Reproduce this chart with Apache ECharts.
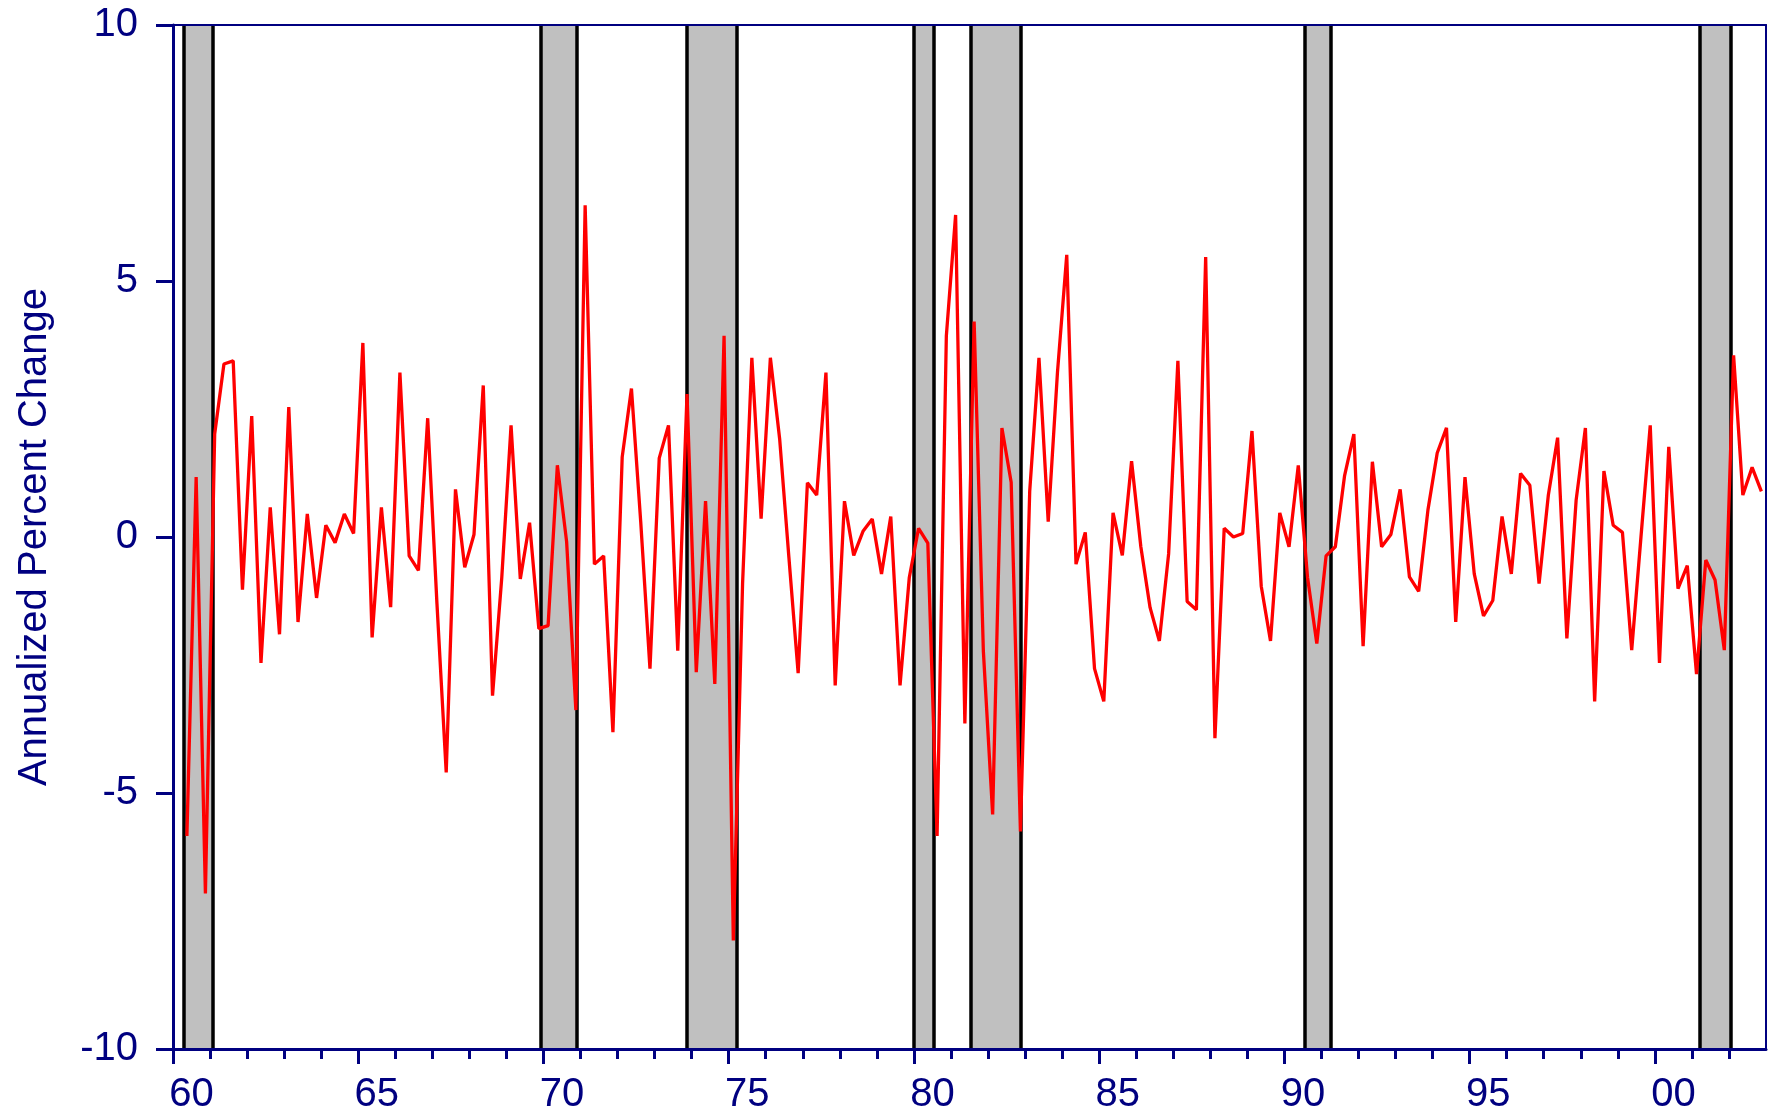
<!DOCTYPE html>
<html>
<head>
<meta charset="utf-8">
<script src="https://cdn.jsdelivr.net/npm/echarts@6/dist/echarts.min.js"></script>
<style>
html,body{margin:0;padding:0;background:#fff;}
#chart{width:1777px;height:1117px;}
</style>
</head>
<body>
<div id="chart"></div>
<script>
// Quarterly series, first observation 1960 Q2, last 2002 Q4
var startYear = 1960;
var startQuarter = 2;
var values = [
  -5.84, 1.17, -6.96,
  2.01, 3.38, 3.44, -1.03,
  2.36, -2.46, 0.58, -1.90,
  2.54, -1.66, 0.45, -1.19,
  0.23, -0.11, 0.45, 0.07,
  3.79, -1.96, 0.58, -1.37,
  3.21, -0.37, -0.65, 2.32,
  -1.30, -4.60, 0.93, -0.59,
  0.05, 2.96, -3.10, -0.79,
  2.18, -0.82, 0.28, -1.79,
  -1.73, 1.40, -0.09, -3.38,
  6.48, -0.53, -0.37, -3.81,
  1.56, 2.90, 0.30, -2.57,
  1.54, 2.18, -2.22, 2.79,
  -2.64, 0.70, -2.87, 3.93,
  -7.88, -0.90, 3.50, 0.36,
  3.50, 1.92, -0.40, -2.66,
  1.06, 0.82, 3.21, -2.90,
  0.70, -0.36, 0.11, 0.35,
  -0.72, 0.40, -2.90, -0.79,
  0.17, -0.12, -5.84, 3.93,
  6.29, -3.64, 4.21, -2.24,
  -5.42, 2.13, 1.07, -5.75,
  0.89, 3.50, 0.30, 3.22,
  5.51, -0.53, 0.09, -2.57,
  -3.21, 0.47, -0.36, 1.48,
  -0.19, -1.38, -2.03, -0.33,
  3.44, -1.26, -1.42, 5.47,
  -3.93, 0.17, 0.00, 0.07,
  2.07, -0.96, -2.03, 0.47,
  -0.19, 1.40, -0.79, -2.08,
  -0.37, -0.19, 1.20, 2.01,
  -2.13, 1.47, -0.19, 0.05,
  0.93, -0.78, -1.06, 0.53,
  1.64, 2.13, -1.66, 1.17,
  -0.72, -1.54, -1.24, 0.40,
  -0.72, 1.24, 1.01, -0.91,
  0.82, 1.94, -1.98, 0.72,
  2.13, -3.21, 1.29, 0.23,
  0.09, -2.21, 0.00, 2.18,
  -2.46, 1.76, -1.01, -0.56,
  -2.68, -0.45, -0.84, -2.21,
  3.55, 0.82, 1.36, 0.89
];
// Recession periods (shaded), in years
var recessionStart = [1960.28, 1969.92, 1973.87, 1980.00, 1981.54, 1990.54, 2001.22];
var recessionEnd   = [1961.07, 1970.89, 1975.21, 1980.54, 1982.88, 1991.26, 2002.06];
// Axis ticks
var xMajorYears = [1960, 1965, 1970, 1975, 1980, 1985, 1990, 1995, 2000];
var xTickLabels = ['60', '65', '70', '75', '80', '85', '90', '95', '00'];
var yTicks = [-10, -5, 0, 5, 10];
var yTitle = 'Annualized Percent Change';

var NAVY = '#000080';
var FONT = "'Liberation Sans', Arial, sans-serif";

// position each quarter at its middle
var seriesData = values.map(function (v, i) {
  var q = startQuarter - 1 + i;
  return [startYear + (q + 0.5) / 4, v];
});
var minorYears = [];
for (var y = 1961; y < 2003; y++) { if (y % 5 !== 0) minorYears.push(y); }
var labelPos = xMajorYears.map(function (y) { return y + 0.5; });

var areaData = recessionStart.map(function (s, i) {
  return [{ xAxis: s }, { xAxis: recessionEnd[i] }];
});
var edgeData = [];
recessionStart.forEach(function (s, i) {
  edgeData.push({ xAxis: s });
  edgeData.push({ xAxis: recessionEnd[i] });
});

var chart = echarts.init(document.getElementById('chart'), null, { renderer: 'canvas' });
chart.setOption({
  animation: false,
  backgroundColor: '#ffffff',
  grid: { left: 173, right: 11, top: 25, bottom: 68, containLabel: false },
  xAxis: [
    {
      type: 'value', min: 1960, max: 2003, position: 'bottom', z: 10,
      axisLine: { show: true, onZero: false, lineStyle: { color: NAVY, width: 3 } },
      axisTick: { show: true, length: 15, customValues: xMajorYears, lineStyle: { color: NAVY, width: 3 } },
      axisLabel: {
        show: true, customValues: labelPos, margin: 26,
        color: NAVY, fontSize: 40, fontFamily: FONT,
        formatter: function (v) {
          var idx = xMajorYears.indexOf(Math.floor(v));
          return idx >= 0 ? xTickLabels[idx] : '';
        }
      },
      splitLine: { show: false }
    },
    {
      type: 'value', min: 1960, max: 2003, position: 'bottom', z: 10,
      axisLine: { show: false, onZero: false },
      axisTick: { show: true, length: 10, customValues: minorYears, lineStyle: { color: NAVY, width: 3 } },
      axisLabel: { show: false },
      splitLine: { show: false }
    },
    {
      type: 'value', min: 1960, max: 2003, position: 'top', z: 10,
      axisLine: { show: true, onZero: false, lineStyle: { color: NAVY, width: 2 } },
      axisTick: { show: false }, axisLabel: { show: false }, splitLine: { show: false }
    }
  ],
  yAxis: [
    {
      type: 'value', min: -10, max: 10, interval: 5, position: 'left', z: 10,
      name: yTitle, nameLocation: 'middle', nameGap: 118,
      nameTextStyle: { color: NAVY, fontSize: 40, fontFamily: FONT },
      axisLine: { show: true, onZero: false, lineStyle: { color: NAVY, width: 3 } },
      axisTick: { show: true, length: 17, customValues: yTicks, lineStyle: { color: NAVY, width: 3 } },
      axisLabel: { color: NAVY, fontSize: 40, fontFamily: FONT, margin: 35 },
      splitLine: { show: false }
    },
    {
      type: 'value', min: -10, max: 10, interval: 5, position: 'right', z: 10,
      axisLine: { show: true, onZero: false, lineStyle: { color: NAVY, width: 2 } },
      axisTick: { show: false }, axisLabel: { show: false }, splitLine: { show: false }
    }
  ],
  series: [
    {
      name: 'recessions', type: 'line', data: [], z: 1, silent: true,
      markArea: {
        silent: true, z: 1,
        itemStyle: { color: '#c0c0c0', opacity: 1 },
        label: { show: false },
        data: areaData
      },
      markLine: {
        silent: true, z: 2, symbol: ['none', 'none'],
        label: { show: false },
        lineStyle: { color: '#000000', width: 3.5, type: 'solid', opacity: 1 },
        emphasis: { disabled: true },
        data: edgeData
      }
    },
    {
      name: 'change', type: 'line', data: seriesData, z: 8,
      showSymbol: false, symbol: 'none',
      lineStyle: { color: '#ff0000', width: 3.3 },
      itemStyle: { color: '#ff0000' }
    }
  ]
});
</script>
</body>
</html>
